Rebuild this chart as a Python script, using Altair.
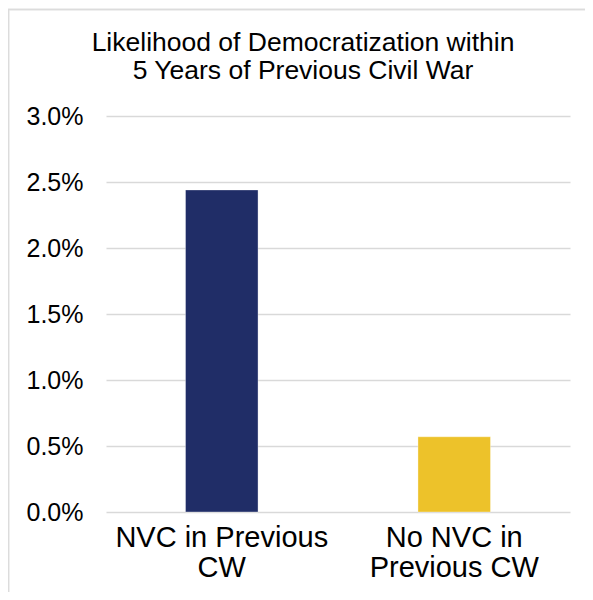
import altair as alt
import pandas as pd

categories = ["NVC in Previous|CW", "No NVC in|Previous CW"]
values = [0.0244, 0.0057]
colors = ["#202d67", "#edc22a"]
title_lines = ["Likelihood of Democratization within", "5 Years of Previous Civil War"]
y_ticks = [0, 0.005, 0.01, 0.015, 0.02, 0.025, 0.03]

df = pd.DataFrame({"cat": categories, "val": values, "color": colors})

FONT = "Liberation Sans"

bars = alt.Chart(df).mark_bar(strokeWidth=1, strokeOpacity=0.35, stroke="white").encode(
    x=alt.X("cat:N", sort=categories, title=None,
            scale=alt.Scale(paddingInner=0.688, paddingOuter=0.342),
            axis=alt.Axis(labelExpr="split(datum.label, '|')", labelAngle=0,
                          labelFontSize=29, labelFont=FONT, labelColor="black",
                          labelLineHeight=30, labelPadding=11, labelLimit=1000,
                          ticks=False, domain=False, grid=False, labelBaseline="top")),
    y=alt.Y("val:Q", title=None,
            scale=alt.Scale(domain=[0, 0.03], nice=False),
            axis=alt.Axis(values=y_ticks, format=".1%", labelFontSize=25,
                          labelFont=FONT, labelColor="black", labelPadding=23,
                          ticks=False, domain=False, grid=True,
                          gridColor="#d9d9d9", gridWidth=1.5)),
    color=alt.Color("color:N", scale=None),
)

border = alt.Chart(df).mark_rect(fill=None, stroke="#dcdcdc", strokeWidth=1.5).encode(
    x=alt.value(-97.5), x2=alt.value(700), y=alt.value(-106.5), y2=alt.value(700)
)

chart = alt.layer(border, bars).properties(
    width=464, height=396,
    title=alt.TitleParams(text=title_lines, fontSize=26.5, font=FONT, fontWeight="normal",
                          color="black", anchor="middle", dx=-35, lineHeight=28, offset=-76),
    autosize=alt.AutoSizeParams(type="none"),
    padding={"left": 98, "top": 108, "right": 15, "bottom": 80},
).configure(background="white").configure_view(strokeWidth=0, stroke="transparent")

chart.save("out.html", embed_options={"renderer": "svg", "actions": False})
